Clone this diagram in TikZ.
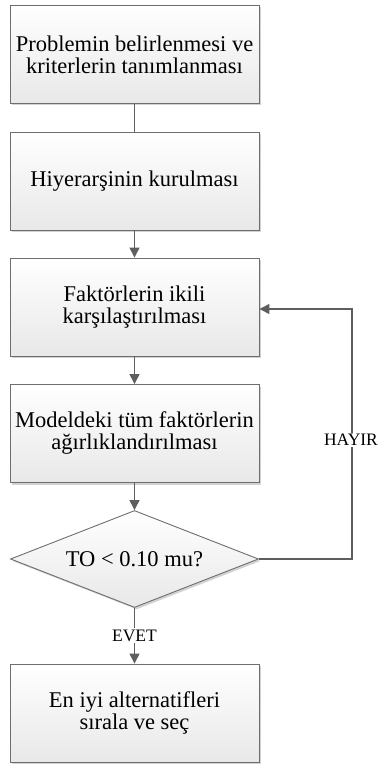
\documentclass[tikz,border=0pt]{standalone}
\usepackage{fontspec}
\setmainfont{Liberation Serif}
\usetikzlibrary{arrows.meta,shapes.geometric,shadows}
\definecolor{linegray}{HTML}{5E5E5E}
\definecolor{edgegray}{HTML}{6E6E6E}
\begin{document}
\begin{tikzpicture}[x=1pt,y=-1pt,
  boxstyle/.style={rectangle, draw=edgegray, line width=0.9pt,
    top color=white, bottom color=black!9,
    minimum width=249pt, minimum height=98pt, inner sep=0pt,
    align=center, font=\fontsize{22.5}{22}\selectfont,
    drop shadow={shadow xshift=2pt, shadow yshift=-2pt, fill=black!25, opacity=0.7}},
  decision/.style={diamond, draw=edgegray, line width=0.9pt,
    top color=white, bottom color=black!9,
    minimum width=248pt, minimum height=97pt, aspect=2.56, inner sep=0pt,
    align=center, font=\fontsize{22.5}{22}\selectfont,
    drop shadow={shadow xshift=2pt, shadow yshift=-2pt, fill=black!25, opacity=0.7}},
  link/.style={draw=linegray, line width=1.3pt},
  flow/.style={link, -{Triangle[length=10pt,width=10pt]}},
  tag/.style={fill=white, inner sep=1.5pt, font=\fontsize{17.5}{17.5}\selectfont}]
\useasboundingbox (0,0) rectangle (380,765);

% process steps
\node[boxstyle] (b1) at (134.5,54.5) {Problemin belirlenmesi ve\\kriterlerin tanımlanması};
\node[boxstyle] (b2) at (134.5,181) {Hiyerarşinin kurulması};
\node[boxstyle] (b3) at (134.5,307) {Faktörlerin ikili\\karşılaştırılması};
\node[boxstyle] (b4) at (134.5,433.5) {Modeldeki tüm faktörlerin\\ağırlıklandırılması};
\node[decision] (d) at (134.5,559) {TO < 0.10 mu?};
\node[boxstyle] (b5) at (134.5,713) {En iyi alternatifleri\\sırala ve seç};

% loop-back corners
\coordinate (c1) at (352,559);
\coordinate (c2) at (352,309);

% connectors
\draw[link] (b1) -- (b2);
\draw[flow] (b2) -- (b3);
\draw[flow] (b3) -- (b4);
\draw[flow] (b4) -- (d);
\draw[flow] (d) -- node[tag] (yes) {EVET} (b5);
\draw[flow] (d.east) -- (c1) -- (c2) -- (b3.east |- c2);
\node[tag] (no) at (351,440) {HAYIR};
\end{tikzpicture}
\end{document}
